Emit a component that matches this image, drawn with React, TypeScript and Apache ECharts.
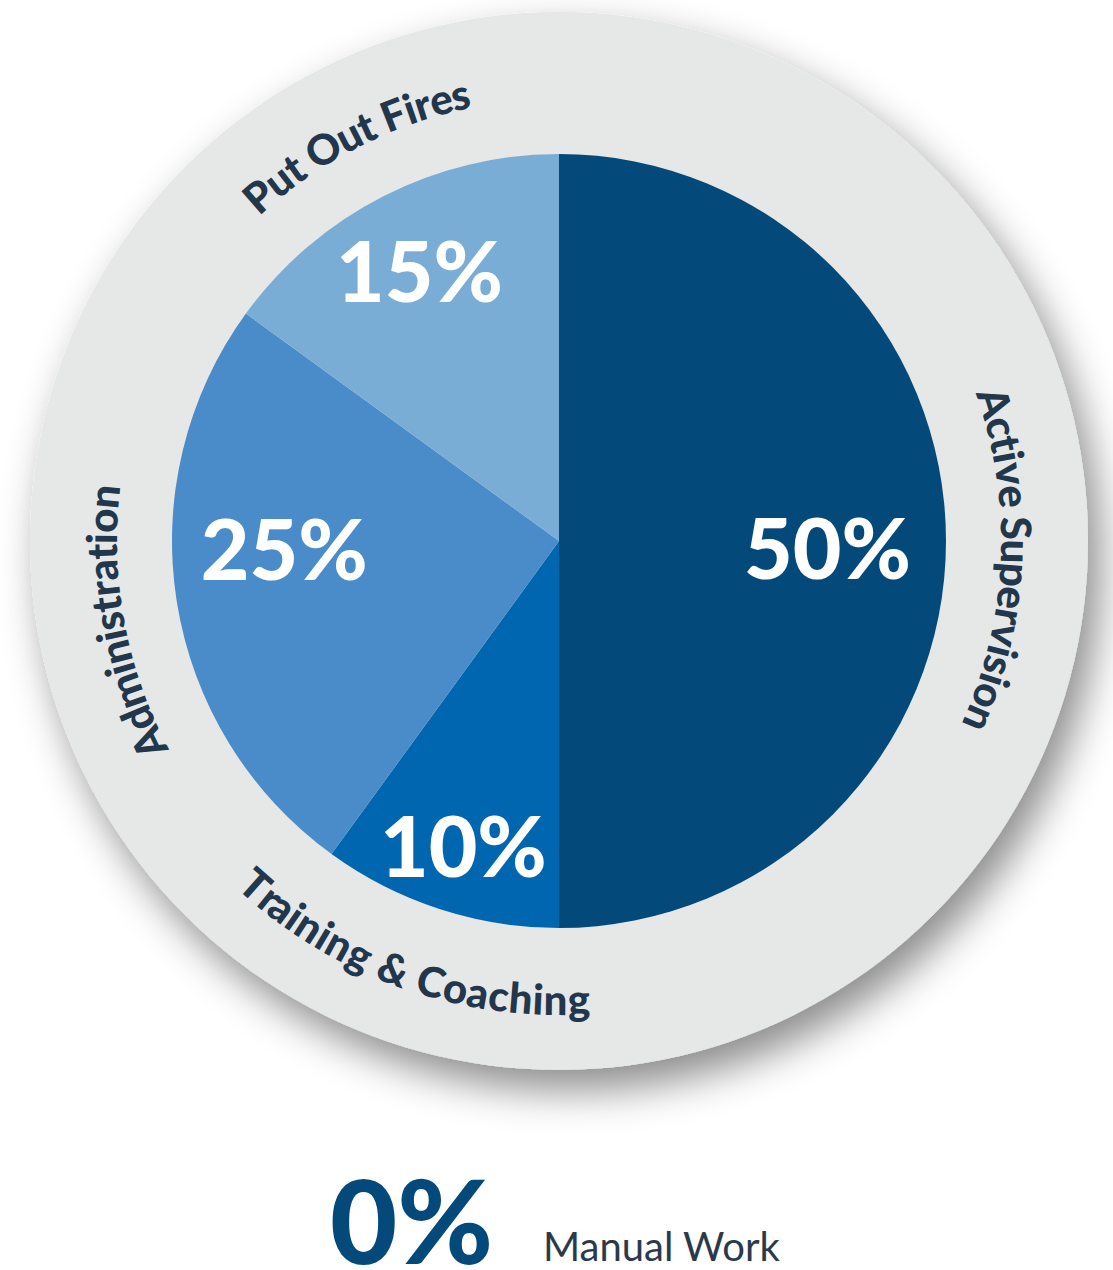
import React, { useEffect, useRef } from 'react';
import * as echarts from 'echarts';

// ---- data ----
const categories = ['Active Supervision', 'Training & Coaching', 'Administration', 'Put Out Fires'];
const shares = [50, 10, 25, 15];
const sliceColors = ['#034A7B', '#0066AF', '#4A8BCA', '#7AADD6'];
const footnoteValue = 0;
const footnoteLabel = 'Manual Work';

// ---- layout / style ----
const W = 1113;
const H = 1270;
const CX = 559;
const CY = 541;
const PIE_R = 387;
const RING_R = 529;
const LABEL_R = 458;
const ARC_FONT = 42;
const LABEL_COLOR = '#22374C';
// nudges of percentage labels (dx, dy) relative to the library's inside anchor
const pctNudge: [number, number][] = [[-28, 5], [-4, 22], [18, -40], [-5, -7]];
// small angular shifts (degrees) of the curved category labels
const arcNudge = [2.5, 1.6, -1.5, 0];

let measureCtx: CanvasRenderingContext2D | null = null;
function textWidth(s: string, font: string) {
  if (!measureCtx) measureCtx = document.createElement('canvas').getContext('2d');
  measureCtx!.font = font;
  return measureCtx!.measureText(s).width;
}

function arcLabel(text: string, midDeg: number, flip: boolean) {
  const font = `900 ${ARC_FONT}px Lato`;
  const chars = Array.from(text);
  const total = textWidth(text, font);
  const els: any[] = [];
  chars.forEach((ch, i) => {
    if (ch === ' ') return;
    const pre = textWidth(chars.slice(0, i).join(''), font);
    const w = textWidth(ch, font);
    const s = pre + w / 2 - total / 2;
    const a = (midDeg * Math.PI) / 180 + (flip ? -1 : 1) * (s / LABEL_R);
    els.push({
      type: 'text',
      x: CX + LABEL_R * Math.sin(a),
      y: CY - LABEL_R * Math.cos(a),
      rotation: flip ? Math.PI - a : -a,
      z: 10,
      silent: true,
      style: {
        text: ch,
        font,
        fill: LABEL_COLOR,
        textAlign: 'center',
        textVerticalAlign: 'middle',
      },
    });
  });
  return els;
}

export default function App() {
  const ref = useRef<HTMLDivElement>(null);

  useEffect(() => {
    document.body.style.margin = '0';
    if (!ref.current) return;
    const chart = echarts.init(ref.current, undefined, { renderer: 'svg' });

    const total = shares.reduce((a, b) => a + b, 0);
    let acc = 0;
    const arcEls: any[] = [];
    categories.forEach((name, i) => {
      const mid = ((acc + shares[i] / 2) / total) * 360;
      acc += shares[i];
      const flip = mid > 120 && mid < 240;
      arcEls.push(...arcLabel(name, mid + arcNudge[i], flip));
    });

    chart.setOption({
      animation: false,
      backgroundColor: '#ffffff',
      graphic: {
        elements: [
          {
            type: 'circle',
            z: 0,
            silent: true,
            shape: { cx: CX, cy: CY, r: RING_R },
            style: {
              fill: '#E6E8E8',
              shadowBlur: 40,
              shadowColor: 'rgba(0,0,0,0.45)',
              shadowOffsetX: 12,
              shadowOffsetY: 20,
            },
          },
          ...arcEls,
          {
            type: 'text',
            x: 330,
            y: 1219,
            z: 10,
            silent: true,
            style: {
              text: `${footnoteValue}%`,
              font: '900 116px Lato',
              fill: '#034A7B',
              textAlign: 'left',
              textVerticalAlign: 'middle',
            },
          },
          {
            type: 'text',
            x: 543,
            y: 1246,
            z: 10,
            silent: true,
            style: {
              text: footnoteLabel,
              font: '400 40px Lato',
              fill: '#2B3A4B',
              textAlign: 'left',
              textVerticalAlign: 'middle',
            },
          },
        ],
      },
      series: [
        {
          type: 'pie',
          center: [CX, CY],
          radius: PIE_R,
          startAngle: 90,
          clockwise: true,
          silent: true,
          z: 2,
          label: { show: false },
          labelLine: { show: false },
          itemStyle: { borderWidth: 0 },
          data: categories.map((name, i) => ({
            name,
            value: shares[i],
            itemStyle: { color: sliceColors[i] },
          })),
        },
        {
          type: 'pie',
          center: [CX, CY],
          radius: [200, PIE_R],
          startAngle: 90,
          clockwise: true,
          silent: true,
          z: 3,
          avoidLabelOverlap: false,
          itemStyle: { color: 'transparent', borderWidth: 0 },
          labelLine: { show: false },
          label: {
            show: true,
            position: 'inside',
            formatter: '{c}%',
            color: '#ffffff',
            fontFamily: 'Lato',
            fontWeight: 900,
            fontSize: 84,
          },
          labelLayout: (params: any) => {
            const n = pctNudge[params.dataIndex] || [0, 0];
            return { dx: n[0], dy: n[1] };
          },
          data: categories.map((name, i) => ({ name, value: shares[i] })),
        },
      ],
    });

    return () => chart.dispose();
  }, []);

  return <div ref={ref} style={{ width: W, height: H }} />;
}
